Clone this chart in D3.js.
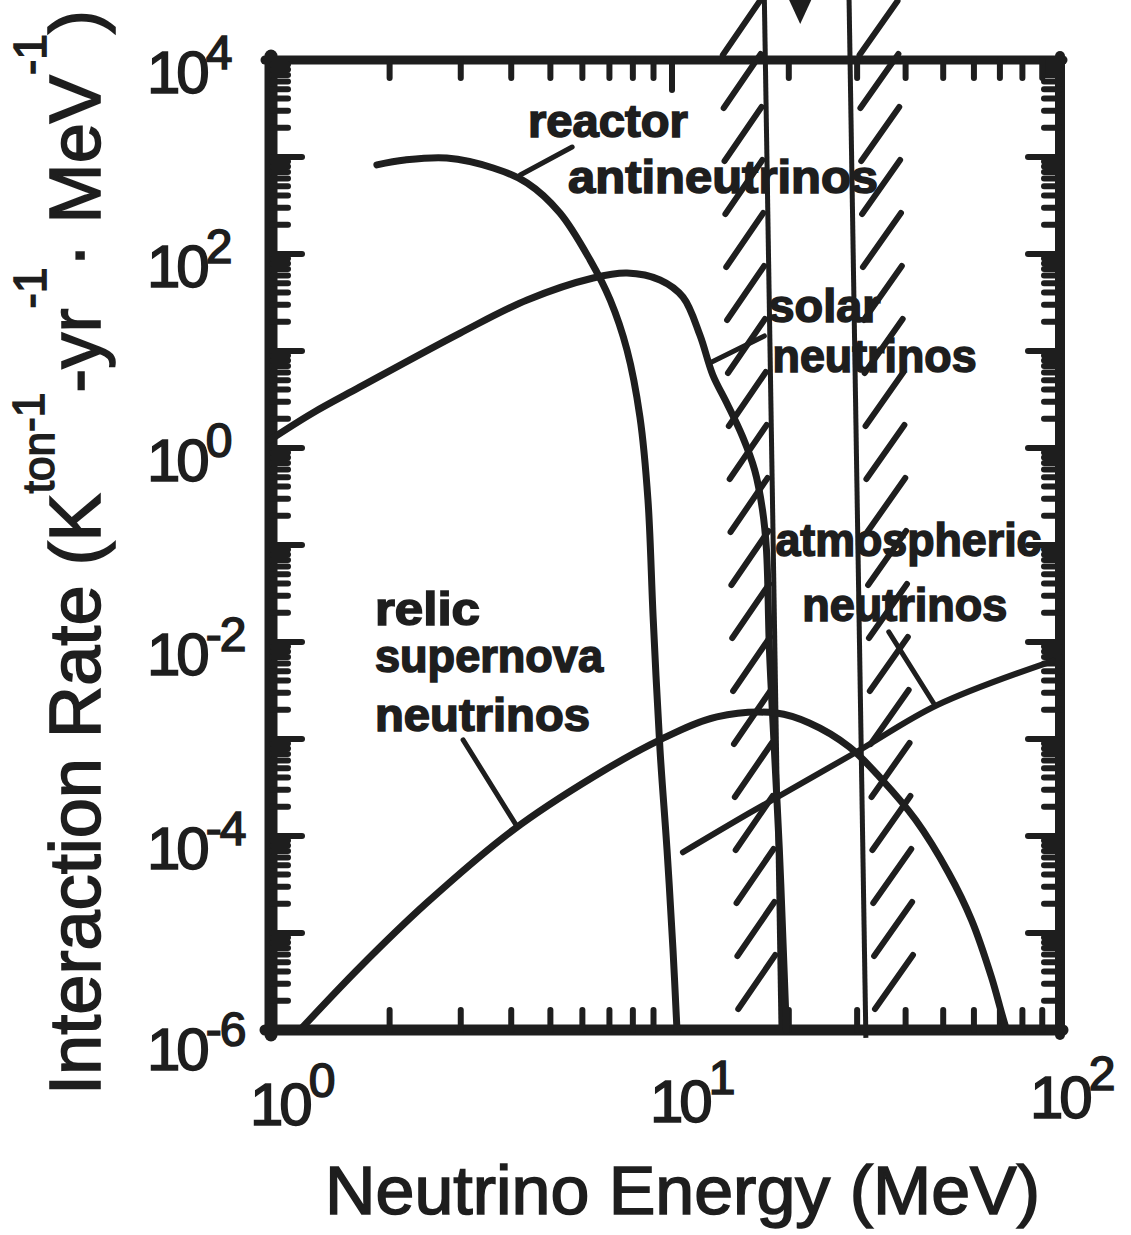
<!DOCTYPE html>
<html>
<head>
<meta charset="utf-8">
<script src="https://cdn.jsdelivr.net/npm/d3@7"></script>
<style>
  body { margin: 0; background: #fff; }
  text { font-family: "Liberation Sans", Arial, sans-serif; fill: #1e1e1e; }
  .heavy { stroke: #1e1e1e; stroke-width: 1.6px; }
</style>
</head>
<body>
<svg id="chart"></svg>
<script>
// neutrino energy (MeV) and interaction rate (kton^-1 yr^-1 MeV^-1)
var reactorE = [1.86, 2.18, 2.77, 3.61, 4.38, 5.28, 6.27, 7.03, 7.74, 8.33, 8.72, 8.98, 9.34, 9.72, 10.06, 10.3]
var reactorR = [830, 931, 977, 771, 540, 265, 86.7, 33.6, 10.2, 2.09, 0.291, 0.0181, 7.7e-4, 7.2e-5, 6.7e-6, 1.0e-6]

var solarE = [1.01, 1.29, 1.69, 2.99, 4.38, 6.38, 7.74, 9.34, 10.67, 11.8, 12.74, 13.84, 15.21, 16.33, 17.11, 17.52, 17.83, 18.36, 18.91, 19.36, 19.71]
var solarR = [1.21, 2.30, 4.26, 15.3, 33.6, 56.6, 63.7, 54.0, 36.0, 14.6, 5.66, 2.91, 1.30, 0.593, 0.230, 0.0887, 8.28e-3, 7.7e-4, 7.2e-5, 6.7e-6, 1.0e-6]

var relicE = [1.20, 1.69, 2.47, 4.04, 6.38, 9.34, 13.05, 18.59, 22.59, 28.6, 34.78, 42.48, 51.64, 59.17, 66.6, 70.7, 72.8]
var relicR = [1.0e-6, 4.46e-6, 2.04e-5, 1.15e-4, 4.06e-4, 9.8e-4, 1.69e-3, 1.85e-3, 1.46e-3, 8.3e-4, 3.8e-4, 1.46e-4, 4.16e-5, 1.36e-5, 3.5e-6, 1.5e-6, 1.0e-6]

var atmosE = [10.67, 15.85, 29.8, 48.3, 95.9]
var atmosR = [6.8e-5, 1.73e-4, 7.3e-4, 2.24e-3, 6.4e-3]

// the two window boundaries (slightly slanted in the scan): [top, bottom]
var edge1E = [17.3, 19.1], edge1R = [4.2e4, 1.0e-6]
var edge2E = [28.6, 31.6], edge2R = [4.2e4, 8.3e-7]
var arrowE = 21.4, arrowR = 2.35e4

// tick labels
var xLabelVals = [1, 10, 100], xLabelExp = ["0", "1", "2"]
var yLabelVals = [1e4, 1e2, 1, 1e-2, 1e-4, 1e-6], yLabelExp = ["4", "2", "0", "-2", "-4", "-6"]

// curve labels: text lines, anchor energy and rate (left / baseline)
var labelText = ["reactor", "antineutrinos", "solar", "neutrinos", "atmospheric", "neutrinos", "relic", "supernova", "neutrinos"]
var labelE = [4.40, 5.53, 17.73, 18.16, 18.48, 21.66, 1.84, 1.84, 1.84]
var labelR = [1607, 426, 19.9, 6.08, 0.077, 0.0164, 0.0150, 4.9e-3, 1.21e-3]
var labelLen = [160, 310, 112, 204, 266, 205, 105, 228, 215]

// leader lines from labels to curves: [E1, R1, E2, R2]
var leaders = [
  [4.21, 652, 5.66, 1268],
  [12.66, 7.7, 17.3, 14.3],
  [36.2, 0.0127, 47.2, 2.35e-3],
  [3.04, 9.8e-4, 4.14, 1.24e-4]
]

var W = 1131, H = 1235, ink = "#1e1e1e"
var svg = d3.select("#chart").attr("width", W).attr("height", H)

var x = d3.scaleLog().domain([1, 10, 100]).range([268, 672, 1060])
var y = d3.scaleLog().domain([1e-6, 1e4]).range([1030, 60])

function zip(a, b) { return a.map(function (v, i) { return [v, b[i]] }) }

var curve = d3.line()
  .x(function (d) { return x(d[0]) })
  .y(function (d) { return y(d[1]) })
  .curve(d3.curveCatmullRom.alpha(0.5))

// hatching beside the window edges
function hatch(eE, eR, side) {
  var x0 = x(eE[0]), y0 = y(eR[0]), x1 = x(eE[1]), y1 = y(eR[1])
  var segs = []
  for (var cy = 28; cy <= 985; cy += 53) {
    var lx = x0 + (x1 - x0) * (cy - y0) / (y1 - y0)
    if (side < 0) segs.push([lx - 42, cy + 27, lx - 5, cy - 27])
    else segs.push([lx + 10, cy + 27, lx + 48, cy - 27])
  }
  return segs
}
var hatchSegs = hatch(edge1E, edge1R, -1).concat(hatch(edge2E, edge2R, 1))
svg.append("g").selectAll("line").data(hatchSegs).enter().append("line")
  .attr("x1", function (d) { return d[0] }).attr("y1", function (d) { return d[1] })
  .attr("x2", function (d) { return d[2] }).attr("y2", function (d) { return d[3] })
  .attr("stroke", ink).attr("stroke-width", 6).attr("stroke-linecap", "round")

// window edges and arrow
var edges = [zip(edge1E, edge1R), zip(edge2E, edge2R)]
svg.append("g").selectAll("path").data(edges).enter().append("path")
  .attr("d", d3.line().x(function (d) { return x(d[0]) }).y(function (d) { return y(d[1]) }))
  .attr("stroke", ink).attr("stroke-width", 5).attr("fill", "none")

var ax = x(arrowE), ay = y(arrowR)
svg.append("path")
  .attr("d", "M" + (ax - 12) + ",-2L" + (ax + 12) + ",-2L" + ax + "," + ay + "Z")
  .attr("fill", ink)

// frame
var xL = x(1), xR = x(100), yT = y(1e4), yB = y(1e-6)
var frame = svg.append("g").attr("stroke", ink).attr("stroke-linecap", "round")
frame.append("line").attr("x1", xL + 3).attr("x2", xL + 3).attr("y1", yT - 4).attr("y2", yB + 5).attr("stroke-width", 13)
frame.append("line").attr("x1", xL - 3).attr("x2", xR + 3).attr("y1", yT).attr("y2", yT).attr("stroke-width", 9)
frame.append("line").attr("x1", xL - 3).attr("x2", xR + 3).attr("y1", yB).attr("y2", yB).attr("stroke-width", 11)
frame.append("line").attr("x1", xR).attr("x2", xR).attr("y1", yT - 4).attr("y2", yB + 5).attr("stroke-width", 10)

// minor / major ticks
var xMinor = [], yMinor = []
;[1, 10].forEach(function (d) { for (var m = 2; m <= 9; m++) xMinor.push(m * d) })
for (var e = -6; e < 4; e++) for (var m = 2; m <= 9; m++) yMinor.push(m * Math.pow(10, e))
var yMajor = d3.range(-5, 4).map(function (e) { return Math.pow(10, e) })

var ticks = svg.append("g").attr("stroke", ink).attr("stroke-width", 6).attr("stroke-linecap", "round")
function tickSet(data, f) {
  ticks.append("g").selectAll("line").data(data).enter().append("line").each(f)
}
tickSet(yMinor, function (d) { d3.select(this).attr("x1", xL + 4).attr("x2", xL + 20).attr("y1", y(d)).attr("y2", y(d)) })
tickSet(yMajor, function (d) { d3.select(this).attr("x1", xL + 4).attr("x2", xL + 34).attr("y1", y(d)).attr("y2", y(d)) })
tickSet(yMinor, function (d) { d3.select(this).attr("x1", xR).attr("x2", xR - 16).attr("y1", y(d)).attr("y2", y(d)) })
tickSet(yMajor, function (d) { d3.select(this).attr("x1", xR).attr("x2", xR - 32).attr("y1", y(d)).attr("y2", y(d)) })
tickSet(xMinor, function (d) { d3.select(this).attr("x1", x(d)).attr("x2", x(d)).attr("y1", yT).attr("y2", yT + 18) })
tickSet([10], function (d) { d3.select(this).attr("x1", x(d)).attr("x2", x(d)).attr("y1", yT).attr("y2", yT + 30) })
tickSet(xMinor, function (d) { d3.select(this).attr("x1", x(d)).attr("x2", x(d)).attr("y1", yB).attr("y2", yB - 20) })

// curves
var series = [zip(reactorE, reactorR), zip(solarE, solarR), zip(relicE, relicR), zip(atmosE, atmosR)]
svg.append("g").selectAll("path").data(series).enter().append("path")
  .attr("d", curve)
  .attr("fill", "none").attr("stroke", ink)
  .attr("stroke-width", function (d, i) { return i == 3 ? 6 : 7 })
  .attr("stroke-linecap", "round")

// leader lines
svg.append("g").selectAll("line").data(leaders).enter().append("line")
  .attr("x1", function (d) { return x(d[0]) }).attr("y1", function (d) { return y(d[1]) })
  .attr("x2", function (d) { return x(d[2]) }).attr("y2", function (d) { return y(d[3]) })
  .attr("stroke", ink).attr("stroke-width", 5).attr("stroke-linecap", "round")

// curve labels
svg.append("g").selectAll("text").data(labelText).enter().append("text")
  .attr("class", "heavy")
  .attr("x", function (d, i) { return x(labelE[i]) })
  .attr("y", function (d, i) { return y(labelR[i]) })
  .attr("textLength", function (d, i) { return labelLen[i] })
  .attr("lengthAdjust", "spacingAndGlyphs")
  .style("font-size", "46px").style("font-weight", "bold")
  .text(function (d) { return d })

// tick labels
var yl = svg.append("g").selectAll("text").data(yLabelVals).enter().append("text")
  .attr("class", "heavy")
  .attr("x", 147)
  .attr("y", function (d, i) { return y(d) + (i == 5 ? 40 : 33) })
  .style("font-size", "60px").style("letter-spacing", "-4px")
yl.append("tspan").text("10")
yl.append("tspan").attr("dy", -24).style("font-size", "48px").style("letter-spacing", "-2px")
  .text(function (d, i) { return yLabelExp[i] })

var xlab = svg.append("g").selectAll("text").data(xLabelVals).enter().append("text")
  .attr("class", "heavy")
  .attr("x", function (d, i) { return x(d) - [18, 22, 30][i] })
  .attr("y", function (d, i) { return [1125, 1122, 1118][i] })
  .style("font-size", "60px").style("letter-spacing", "-4px")
xlab.append("tspan").text("10")
xlab.append("tspan").attr("dy", -28).style("font-size", "48px")
  .text(function (d, i) { return xLabelExp[i] })

// axis titles
svg.append("text")
  .attr("class", "heavy")
  .attr("x", 325).attr("y", 1214)
  .attr("textLength", 715).attr("lengthAdjust", "spacingAndGlyphs")
  .style("font-size", "68px")
  .text("Neutrino Energy (MeV)")

var yt = svg.append("text")
  .attr("class", "heavy")
  .attr("transform", "translate(100,1095) rotate(-90)")
  .attr("textLength", 1085).attr("lengthAdjust", "spacingAndGlyphs")
  .style("font-size", "72px")
yt.append("tspan").text("Interaction Rate (K")
yt.append("tspan").attr("dy", -46).style("font-size", "44px").text("ton")
yt.append("tspan").attr("dy", -10).style("font-size", "44px").text("-1")
yt.append("tspan").attr("dy", 56).text("-yr")
yt.append("tspan").attr("dy", -54).style("font-size", "46px").text("-1")
yt.append("tspan").attr("dy", 54).text("· MeV")
yt.append("tspan").attr("dy", -54).style("font-size", "46px").text("-1")
yt.append("tspan").attr("dy", 54).text(")")
</script>
</body>
</html>
